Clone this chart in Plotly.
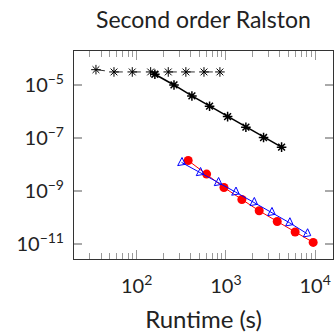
import plotly.graph_objects as go

# Data
flat_x = [35.0, 55.7, 89.3, 143.5, 226, 356, 568, 857]
flat_y = [3.77e-5, 3.09e-5, 3.09e-5, 3.09e-5, 3.09e-5, 3.09e-5, 3.09e-5, 3.09e-5]

black_x = [160, 262, 416, 656, 1045, 1675, 2642, 4207]
black_y = [2.53e-5, 1.0e-5, 3.85e-6, 1.58e-6, 6.4e-7, 2.55e-7, 1.04e-7, 4.5e-8]

red_x = [378, 608, 951, 1510, 2360, 3758, 5970, 9506]
red_y = [1.41e-8, 4.34e-9, 1.36e-9, 4.79e-10, 1.79e-10, 7.1e-11, 2.83e-11, 1.15e-11]

blue_x = [319, 515, 820, 1285, 2061, 3251, 5164, 8147]
blue_y = [1.19e-8, 4.98e-9, 2.09e-9, 9.1e-10, 3.69e-10, 1.55e-10, 6.34e-11, 2.44e-11]

y_tickvals = [1e-5, 1e-7, 1e-9, 1e-11]
y_ticktext = ["10<sup>−5</sup>", "10<sup>−7</sup>", "10<sup>−9</sup>", "10<sup>−11</sup>"]
x_tickvals = [1e2, 1e3, 1e4]
x_ticktext = ["10<sup>2</sup>", "10<sup>3</sup>", "10<sup>4</sup>"]
x_minor_vals = [30, 40, 50, 60, 70, 80, 90,
                200, 300, 400, 500, 600, 700, 800, 900,
                2000, 3000, 4000, 5000, 6000, 7000, 8000, 9000]

FONT = "Lato"

fig = go.Figure()
fig.add_trace(go.Scatter(
    x=flat_x, y=flat_y, mode="lines+markers",
    line=dict(color="black", width=0.8, dash="dash"),
    marker=dict(symbol="asterisk-open", size=8, line=dict(color="black", width=1)),
    showlegend=False))
fig.add_trace(go.Scatter(
    x=black_x, y=black_y, mode="lines+markers",
    line=dict(color="black", width=1.6),
    marker=dict(symbol="asterisk-open", size=8, line=dict(color="black", width=1.5)),
    showlegend=False))
fig.add_trace(go.Scatter(
    x=red_x, y=red_y, mode="lines+markers",
    line=dict(color="#ff0000", width=1),
    marker=dict(symbol="circle", size=9, color="#ff0000"),
    showlegend=False))
fig.add_trace(go.Scatter(
    x=blue_x, y=blue_y, mode="lines+markers",
    line=dict(color="#0000ff", width=1),
    marker=dict(symbol="triangle-right-open", size=8, angle=28,
                line=dict(color="#0000ff", width=1)),
    showlegend=False))

fig.update_layout(
    width=334, height=333,
    margin=dict(l=74, r=1, t=51, b=74, autoexpand=False),
    plot_bgcolor="white", paper_bgcolor="white",
    font=dict(family=FONT, size=20, color="#222"),
    title=dict(text="Second order Ralston", x=0.609, xanchor="center",
               y=0.94, yanchor="middle", font=dict(size=23)),
)
fig.update_xaxes(
    type="log", range=[1.298, 4.2],
    tickvals=x_tickvals, ticktext=x_ticktext,
    ticks="inside", ticklen=9, tickcolor="#999", tickwidth=1,
    ticklabelstandoff=9,
    showline=True, linecolor="#333", linewidth=1, mirror="ticks",
    showgrid=False, zeroline=False,
    minor=dict(tickvals=x_minor_vals, ticks="inside", ticklen=6,
               tickcolor="#999", tickwidth=1, showgrid=False),
    title=dict(text="Runtime (s)", standoff=16, font=dict(size=24)),
    automargin=False,
)
fig.update_yaxes(
    type="log", range=[-11.565, -3.72],
    tickvals=y_tickvals, ticktext=y_ticktext,
    ticks="inside", ticklen=8, tickcolor="#aaa", tickwidth=1.5,
    ticklabelstandoff=5,
    showline=True, linecolor="#333", linewidth=1, mirror="ticks",
    showgrid=False, zeroline=False, automargin=False,
)

fig.write_html("out.html")
